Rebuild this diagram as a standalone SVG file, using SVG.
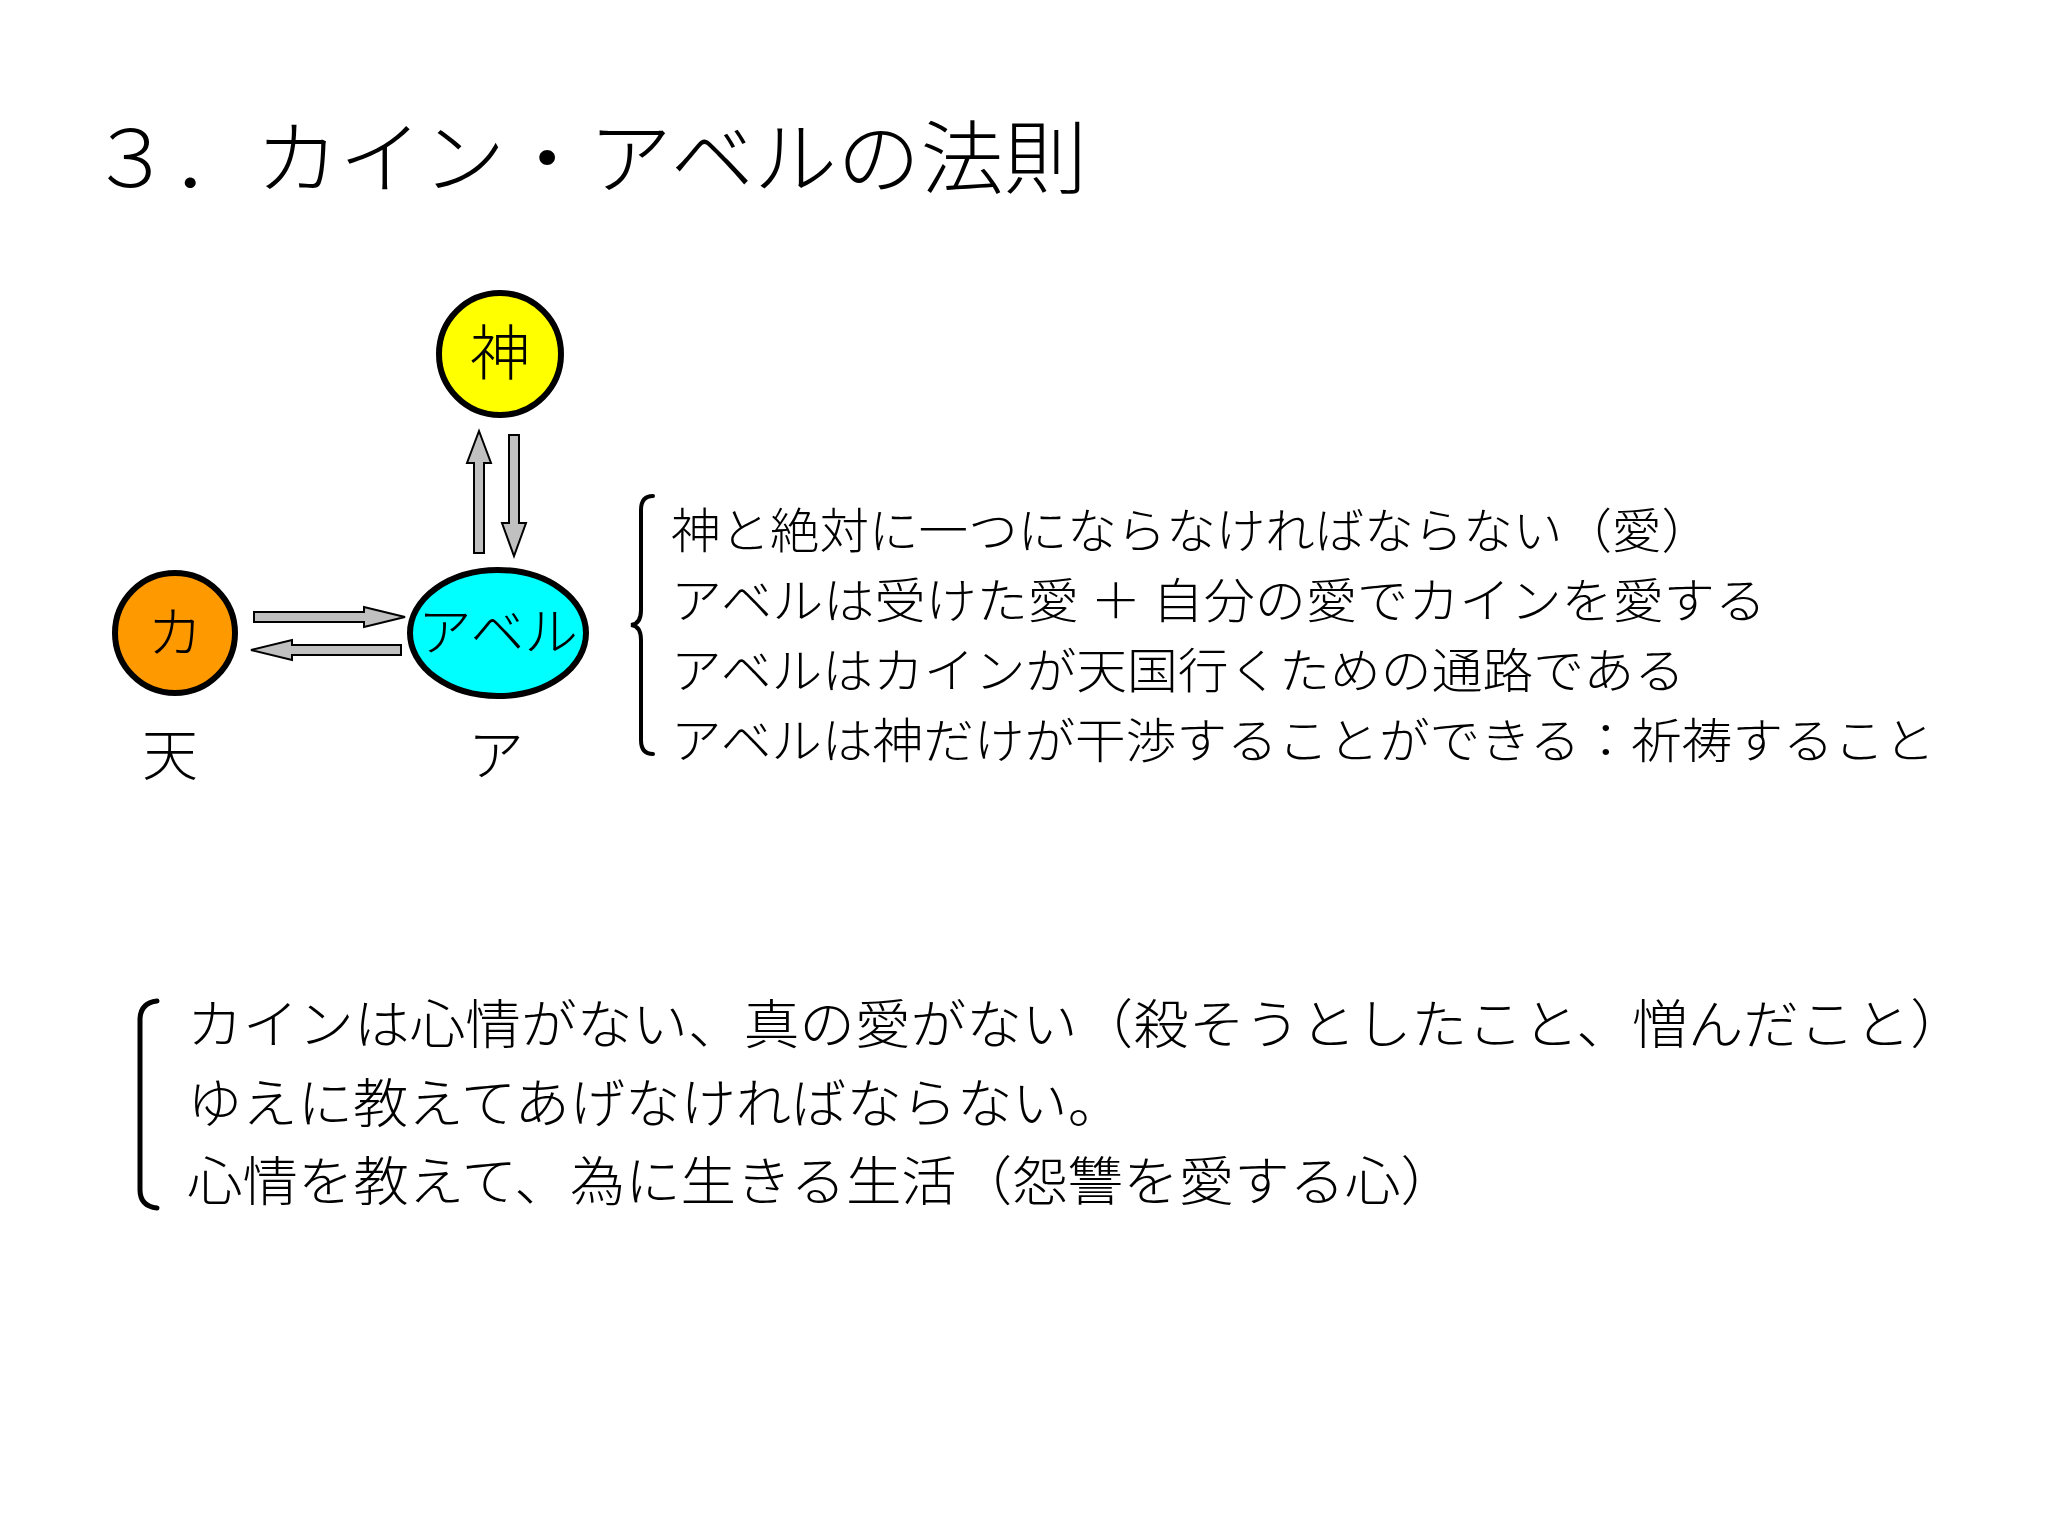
<svg xmlns="http://www.w3.org/2000/svg" width="2048" height="1536" viewBox="0 0 2048 1536">
<style>
text{font-family:"Noto Sans CJK JP","Noto Sans CJK SC",sans-serif;fill:#000;font-weight:300}
.arr{fill:#c0c0c0;stroke:#000;stroke-width:2}
.node{stroke:#000;stroke-width:6}
.br{fill:none;stroke:#000;stroke-width:4;stroke-linecap:round}
</style>
<rect width="2048" height="1536" fill="#fff"/>
<text x="89" y="187" font-size="80" textLength="998" lengthAdjust="spacingAndGlyphs">３．カイン・アベルの法則</text>
<g id="god"><circle class="node" cx="500" cy="354" r="61" fill="#ffff00"/><text x="500" y="375" font-size="60" text-anchor="middle">神</text></g>
<g id="cain"><circle class="node" cx="175" cy="633" r="60" fill="#ff9900"/><text x="175" y="652" font-size="55" text-anchor="middle">カ</text></g>
<g id="abel"><ellipse class="node" cx="498" cy="633" rx="88" ry="63" fill="#00ffff"/><text x="498" y="651" font-size="52" text-anchor="middle" textLength="160" lengthAdjust="spacingAndGlyphs">アベル</text></g>
<g id="connectors">
<polygon class="arr" points="474,553 474,463 467,463 479,431 491,463 484,463 484,553"/>
<polygon class="arr" points="509,435 519,435 519,523 526,523 514,556 502,523 509,523"/>
<polygon class="arr" points="254,612 364,612 364,607 405,617 364,627 364,622 254,622"/>
<polygon class="arr" points="401,645 292,645 292,640 251,650 292,660 292,655 401,655"/>
</g>
<text x="170" y="775" font-size="56" text-anchor="middle">天</text>
<text x="496" y="775" font-size="56" text-anchor="middle">ア</text>
<path class="br" d="M653,496 Q641,496 641,510 L641,610 Q641,624 631,625 Q641,626 641,640 L641,740 Q641,754 653,754"/>
<g font-size="48">
<text x="671" y="548" textLength="1040" lengthAdjust="spacingAndGlyphs">神と絶対に一つにならなければならない（愛）</text>
<text x="671" y="618" textLength="1095" lengthAdjust="spacingAndGlyphs">アベルは受けた愛 ＋ 自分の愛でカインを愛する</text>
<text x="671" y="688" textLength="1014" lengthAdjust="spacingAndGlyphs">アベルはカインが天国行くための通路である</text>
<text x="671" y="758" textLength="1264" lengthAdjust="spacingAndGlyphs">アベルは神だけが干渉することができる：祈祷すること</text>
</g>
<path class="br" style="stroke-width:5" d="M157,1001 Q140,1003 140,1020 L140,1190 Q140,1206 157,1208"/>
<g font-size="53">
<text x="187" y="1044" textLength="1779" lengthAdjust="spacingAndGlyphs">カインは心情がない、真の愛がない（殺そうとしたこと、憎んだこと）</text>
<text x="187" y="1123" textLength="936" lengthAdjust="spacingAndGlyphs">ゆえに教えてあげなければならない。</text>
<text x="187" y="1201" textLength="1269" lengthAdjust="spacingAndGlyphs">心情を教えて、為に生きる生活（怨讐を愛する心）</text>
</g>
</svg>
